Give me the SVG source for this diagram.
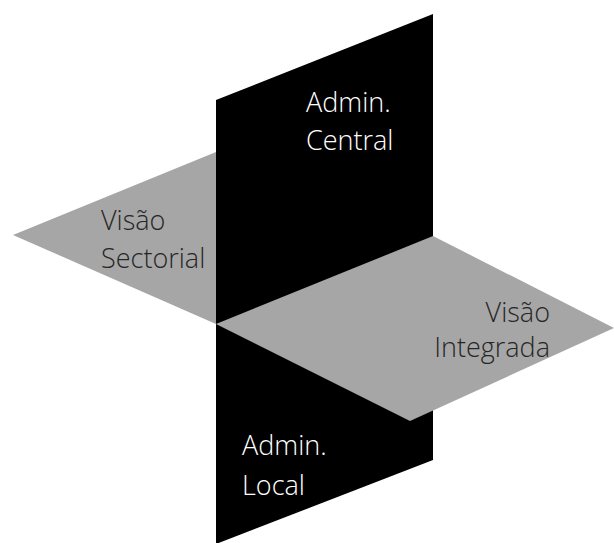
<svg xmlns="http://www.w3.org/2000/svg" width="614" height="543" viewBox="0 0 614 543">
<style>
.g{fill:#a6a6a6}
.b{fill:#000}
.t{font-family:"Open Sans","Noto Sans",sans-serif;font-size:27px;font-weight:300}
.w{fill:#fff}
.d{fill:#262626}
</style>
<rect width="614" height="543" fill="#fff"/>
<g id="plano-sectorial">
<polygon class="g" points="13,235 216,152 216,324"/>
</g>
<g id="plano-vertical">
<polygon class="b" points="216,100 433,14 433,460 216,544"/>
</g>
<g id="plano-integrada">
<polygon class="g" points="216,324 433,236 614,328 410,421"/>
</g>
<g id="admin-central">
<text class="t w" x="306" y="112">Admin.</text>
<text class="t w" x="306" y="150">Central</text>
</g>
<g id="visao-sectorial">
<text class="t d" x="101" y="230">Visão</text>
<text class="t d" x="101" y="268">Sectorial</text>
</g>
<g id="visao-integrada">
<text class="t d" x="550" y="322" text-anchor="end">Visão</text>
<text class="t d" x="550" y="357" text-anchor="end">Integrada</text>
</g>
<g id="admin-local">
<text class="t w" x="242" y="455">Admin.</text>
<text class="t w" x="242" y="495">Local</text>
</g>
<g id="connectors"/>
</svg>
